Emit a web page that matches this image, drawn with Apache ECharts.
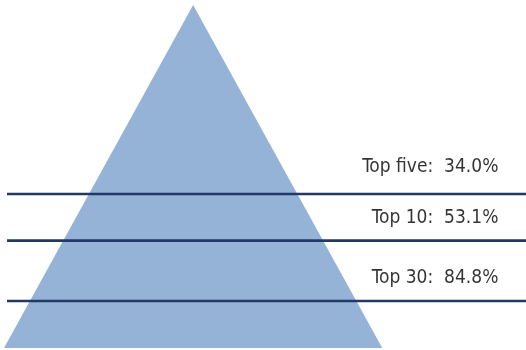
<!DOCTYPE html>
<html>
<head>
<meta charset="utf-8">
<script src="https://cdn.jsdelivr.net/npm/echarts@6/dist/echarts.min.js"></script>
<style>html,body{margin:0;padding:0;background:#fff;}#c{width:526px;height:350px;}</style>
</head>
<body>
<div id="c"></div>
<script>
// Tiers and their cumulative shares
var categories = ['Top five', 'Top 10', 'Top 30'];
var shares = [34.0, 53.1, 84.8];
// Pyramid outline in chart units (x: 0..100 base width, y: 0 base .. 100 apex)
var pyramidX = [0, 50, 100];
var pyramidY = [0, 100, 0];
// Divider levels (y units) and label levels (y units)
var dividerLevels = [44.9, 31.3, 13.7];
var labelLevels = [52.8, 37.9, 20.4];
var dividerStart = 0.8, dividerEnd = 138, labelRight = 130.7;

var chart = echarts.init(document.getElementById('c'), null, {renderer: 'canvas'});
var series = [];
series.push({
  type: 'line',
  data: pyramidX.map(function (x, i) { return [x, pyramidY[i]]; }),
  symbol: 'none',
  lineStyle: {width: 0},
  areaStyle: {color: '#95B3D7', opacity: 1},
  silent: true,
  z: 1
});
dividerLevels.forEach(function (lv) {
  series.push({
    type: 'line',
    data: [[dividerStart, lv], [dividerEnd, lv]],
    symbol: 'none',
    lineStyle: {color: '#1F3B63', width: 2.6},
    clip: false,
    silent: true,
    z: 3
  });
});
series.push({
  type: 'scatter',
  symbolSize: 0,
  data: categories.map(function (c, i) { return {value: [labelRight, labelLevels[i]], name: c}; }),
  label: {
    show: true,
    position: 'left',
    distance: 0,
    align: 'right',
    verticalAlign: 'middle',
    color: '#000',
    fontFamily: '"DejaVu Sans Condensed", "DejaVu Sans", sans-serif',
    fontSize: 19,
    formatter: function (p) { return p.name + ':  ' + shares[p.dataIndex].toFixed(1) + '%'; }
  },
  z: 4
});

chart.setOption({
  animation: false,
  backgroundColor: '#fff',
  grid: {left: 4, right: 0, top: 5, bottom: 2, containLabel: false},
  xAxis: {type: 'value', min: 0, max: 138, show: false},
  yAxis: {type: 'value', min: 0, max: 100, show: false},
  series: series
});
</script>
</body>
</html>
